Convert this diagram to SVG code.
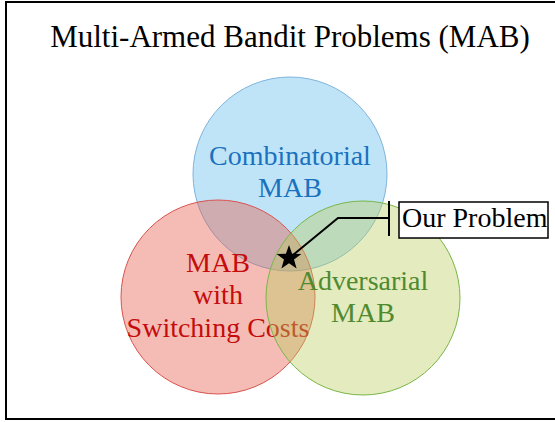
<svg xmlns="http://www.w3.org/2000/svg" width="555" height="422" viewBox="0 0 555 422">
<style>
  text { font-family: "Liberation Serif", "Times New Roman", serif; }
  .title { font-size: 31px; fill: #000; }
  .lbl { font-size: 28px; text-anchor: middle; }
  .blue { fill: #1a72bf; }
  .red { fill: #c40c0c; }
  .green { fill: #4f8a30; }
</style>
<rect x="6" y="2" width="560" height="417" fill="#fff" stroke="#000" stroke-width="2"/>
<text class="title" x="290" y="47" text-anchor="middle">Multi-Armed Bandit Problems (MAB)</text>
<g id="combinatorial">
  <circle cx="290" cy="174" r="97" fill="#c0e4f7" stroke="#7fb4dc" stroke-width="1"/>
  <text class="lbl blue" x="290" y="165">Combinatorial</text>
  <text class="lbl blue" x="290" y="197">MAB</text>
</g>
<g id="switching">
  <circle cx="218" cy="297" r="97" fill="#e65746" fill-opacity="0.4" stroke="#d9534f" stroke-width="1"/>
  <text class="lbl red" x="218" y="272">MAB</text>
  <text class="lbl red" x="218" y="304">with</text>
  <text class="lbl red" x="218" y="337">Switching Costs</text>
</g>
<g id="adversarial">
  <circle cx="363" cy="298" r="97" fill="#b9cd5f" fill-opacity="0.4" stroke="#7ab648" stroke-width="1"/>
  <text class="lbl green" x="363" y="290">Adversarial</text>
  <text class="lbl green" x="363" y="322">MAB</text>
</g>
<g id="connectors">
  <polyline points="293,255 338,218 388,218" fill="none" stroke="#000" stroke-width="2"/>
  <line x1="389" y1="201" x2="389" y2="236" stroke="#000" stroke-width="2"/>
</g>
<g id="star">
  <polygon points="289,245 292.1,253.8 301.4,254 294,259.6 296.6,268.5 289,263.2 281.4,268.5 284,259.6 276.6,254 285.9,253.8" fill="#000"/>
</g>
<g id="our-problem">
  <rect x="399" y="202" width="149" height="36" fill="#fff" stroke="#000" stroke-width="1.5"/>
  <text x="402" y="227" font-size="28" fill="#000">Our Problem</text>
</g>
</svg>
